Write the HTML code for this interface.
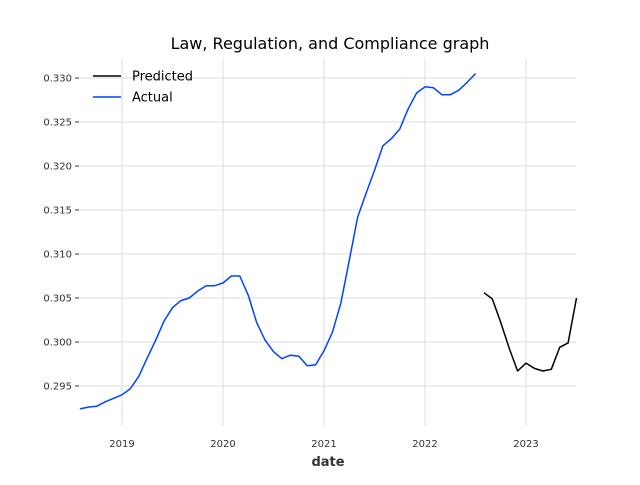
<!DOCTYPE html>
<html><head><meta charset="utf-8"><style>
body{margin:0;background:#fff;font-family:"Liberation Sans","DejaVu Sans",sans-serif}
svg text{font-family:"DejaVu Sans","Liberation Sans",sans-serif}
</style></head><body>
<svg id="c" width="640" height="480" xmlns="http://www.w3.org/2000/svg"></svg>
<script>
const actualStart = 2018 + 7/12; // Aug 2018
const actualValues = [0.2924,0.2926,0.2927,0.2932,0.2936,0.2940,0.2947,0.2961,0.2982,0.3002,0.3024,0.3039,0.3047,0.3050,0.3058,0.3064,0.3064,0.3067,0.3075,0.3075,0.3053,0.3022,0.3002,0.2989,0.2981,0.2985,0.2984,0.2973,0.2974,0.2990,0.3011,0.3044,0.3093,0.3142,0.3169,0.3195,0.3223,0.3231,0.3242,0.3265,0.3283,0.3290,0.3289,0.3281,0.3281,0.3286,0.3295,0.3305];
const predStart = 2022 + 7/12; // Aug 2022
const predValues = [0.3056,0.3049,0.3022,0.2993,0.2967,0.2976,0.2970,0.2967,0.2969,0.2994,0.2999,0.3050];
const xTicks = [2019,2020,2021,2022,2023];
const yTicks = [0.295,0.300,0.305,0.310,0.315,0.320,0.325,0.330];
const NS="http://www.w3.org/2000/svg";
const svg=document.getElementById('c');
const X=v=>122+(v-2019)*101;
const Y=v=>78+(0.330-v)/0.005*44;
function el(t,a,p){const e=document.createElementNS(NS,t);for(const k in a)e.setAttribute(k,a[k]);(p||svg).appendChild(e);return e;}
xTicks.forEach(t=>{
  const l=el('line',{x1:X(t),x2:X(t),y1:58,y2:426,stroke:'#dcdcdc','stroke-width':1});
  
  
  const tx=el('text',{x:X(t),y:447,'text-anchor':'middle','font-size':10,fill:'#333'});
  tx.textContent=t;
  
  
});
yTicks.forEach(t=>{
  const l=el('line',{x1:80,x2:576,y1:Y(t),y2:Y(t),stroke:'#dcdcdc','stroke-width':1});
  
  
  const tk=el('line',{x1:75,x2:79,y1:Y(t),y2:Y(t),stroke:'#333','stroke-width':1});
  
  
  const tx=el('text',{x:72,y:Y(t)+3.5,'text-anchor':'end','font-size':10,fill:'#333'});
  tx.textContent=t.toFixed(3);
  
  
});
function series(vals,start,color,name){
  const pts=vals.map((v,i)=>X(start+i/12).toFixed(1)+','+Y(v).toFixed(1)).join(' ');
  const p=el('polyline',{points:pts,fill:'none',stroke:color,'stroke-width':1.5,'stroke-linejoin':'round'});
  
  
}
series(actualValues,actualStart,'#0044ff','actual-line');
series(predValues,predStart,'#000','predicted-line');
const title=el('text',{x:330,y:49,'text-anchor':'middle','font-size':16,fill:'#000'});
title.textContent='Law, Regulation, and Compliance graph';


const xl=el('text',{x:328,y:466,'text-anchor':'middle','font-size':13,'font-weight':'bold',fill:'#333'});
xl.textContent='date';


const lg=el('g',{});


[['Predicted','#000',76],['Actual','#0044ff',97]].forEach(([n,c,y])=>{
  const l=el('line',{x1:93,x2:121,y1:y,y2:y,stroke:c,'stroke-width':1.5},lg);
  
  
  const t=el('text',{x:132,y:y+4.5,'font-size':13,fill:'#000'},lg);
  t.textContent=n;
  
  
});
</script>
</body></html>
